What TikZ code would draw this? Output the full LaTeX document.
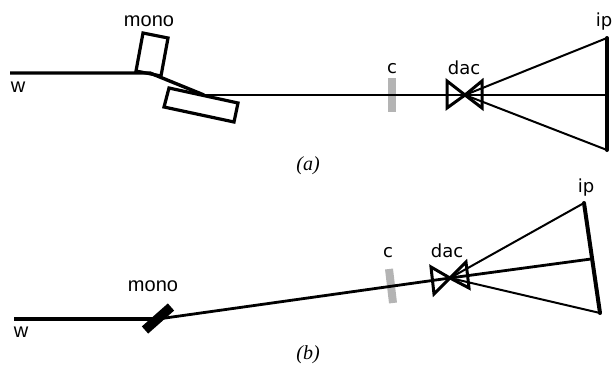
\documentclass[tikz,border=0pt]{standalone}
\usepackage{fontspec}
\setsansfont{DejaVu Sans}
\setmainfont{Liberation Serif}
\newfontfamily\arialish{Liberation Sans}
\definecolor{slitgrey}{HTML}{B4B4B4}
\tikzset{
  lbl/.style={font=\sffamily\fontsize{18}{20}\selectfont, anchor=base, inner sep=0pt},
  lblb/.style={font=\arialish\fontsize{20}{22}\selectfont, anchor=base, inner sep=0pt},
  panelcap/.style={font=\itshape\fontsize{20}{22}\selectfont, anchor=base, inner sep=0pt},
  beam/.style={black, line width=2.8pt},
  wbeam/.style={black, line width=3.4pt},
  fan/.style={black, line width=2pt},
  det/.style={black, line width=4pt, line cap=round},
  anvil/.style={black, line width=3pt, line join=miter},
  xtal/.style={black, line width=3.2pt, line join=miter},
  slit/.style={slitgrey, line width=8pt}
}
\newcommand{\dacpair}[5]{% apex, left base ends, right base ends
  \draw[anvil] (#1) -- (#2) -- (#3) -- cycle;
  \draw[anvil] (#1) -- (#4) -- (#5) -- cycle;
}
\begin{document}
\begin{tikzpicture}[x=1pt, y=-1pt]
  \useasboundingbox (0,0) rectangle (613,365);

  % (a) double crystal
  \coordinate (wa) at (10,73);
  \coordinate (m1a) at (150,73);
  \coordinate (m2a) at (204,95);
  \coordinate (apexa) at (465,95);
  \coordinate (ipta) at (607,38);
  \coordinate (ipma) at (607,95);
  \coordinate (ipba) at (607,150);
  \coordinate (cta) at (392,78);
  \coordinate (cba) at (392,112);

  \draw[slit] (cta) -- (cba);
  \draw[wbeam] (wa) -- (m1a) -- (m2a);
  \draw[beam] (m2a) -- (ipma);
  \draw[xtal] (143,33) -- (168,38) -- (161,76) -- (136,71) -- cycle;
  \draw[xtal] (169,88) -- (238,103) -- (234,122) -- (164,107) -- cycle;
  \dacpair{apexa}{447,81}{447,108}{482,81}{482,108}
  \draw[fan] (apexa) -- (ipta);
  \draw[fan] (apexa) -- (ipba);
  \draw[det] (ipta) -- (ipba);

  \node[lblb] (wlbla) at (18,92) {w};
  \node[lblb] (monoa) at (149,26) {mono};
  \node[lbl] (ca) at (392,73) {c};
  \node[lbl] (daca) at (464,74) {dac};
  \node[lbl] (ipa) at (604,26) {ip};
  \node[panelcap] (capa) at (308,170) {(a)};

  % (b) single crystal
  \coordinate (wb) at (14,319);
  \coordinate (m1b) at (158,319);
  \coordinate (apexb) at (450,278);
  \coordinate (iptb) at (584,203);
  \coordinate (ipmb) at (591,259);
  \coordinate (ipbb) at (600,313);
  \coordinate (ctb) at (389,269);
  \coordinate (cbb) at (393,303);
  \coordinate (mtb) at (171,307);
  \coordinate (mbb) at (145,330);

  \draw[slit] (ctb) -- (cbb);
  \draw[wbeam] (wb) -- (m1b);
  \draw[beam] (m1b) -- (apexb) -- (ipmb);
  \draw[black, line width=9.5pt] (mtb) -- (mbb);
  \dacpair{apexb}{431,267}{434,294}{466,262}{469,288}
  \draw[fan] (apexb) -- (iptb);
  \draw[fan] (apexb) -- (ipbb);
  \draw[det] (iptb) -- (ipbb);

  \node[lblb] (wlblb) at (21,337) {w};
  \node[lblb] (monob) at (153,291) {mono};
  \node[lbl] (cb) at (388,257) {c};
  \node[lbl] (dacb) at (447,257) {dac};
  \node[lbl] (ipb) at (586,192) {ip};
  \node[panelcap] (capb) at (308,359) {(b)};
\end{tikzpicture}
\end{document}
